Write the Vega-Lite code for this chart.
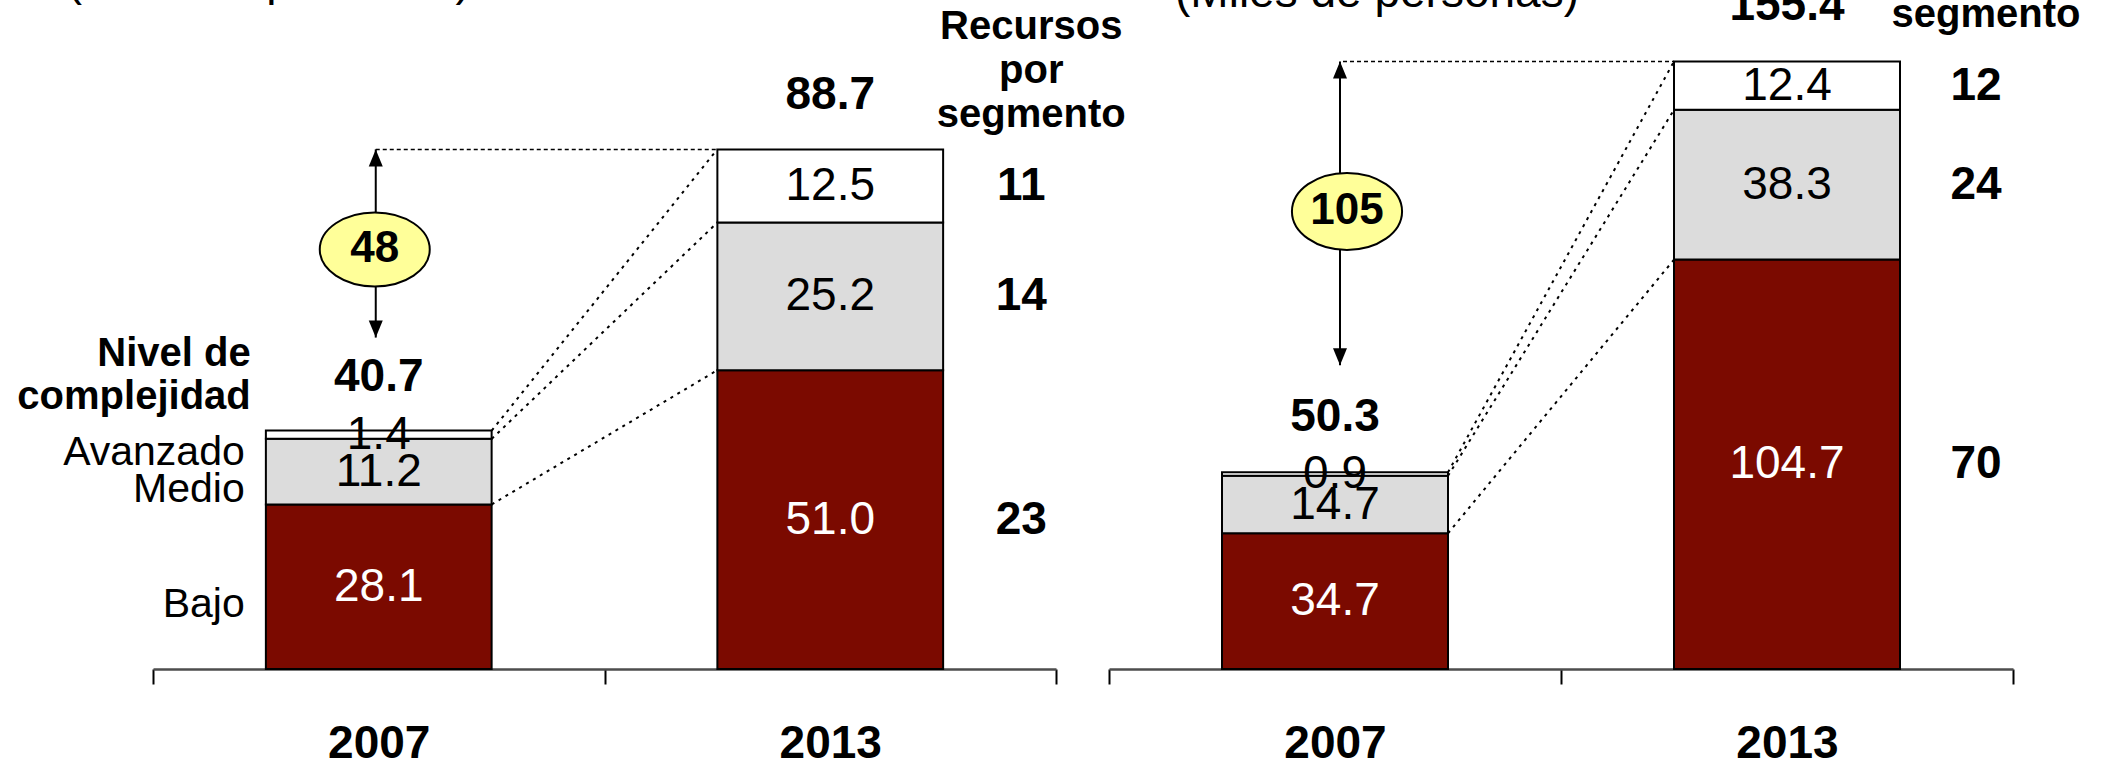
{
  "$schema": "https://vega.github.io/schema/vega-lite/v6.json",
  "width": 2108,
  "height": 669,
  "padding": 0,
  "config": {
    "font": "Liberation Sans",
    "view": {"stroke": null},
    "axisX": {"labelFontSize": 46, "labelFontWeight": "bold", "labelColor": "black", "labelAngle": 0, "labelPadding": 37, "tickBand": "extent", "tickSize": 15, "tickColor": "black", "tickWidth": 2, "domainColor": "#4d4d4d", "domainWidth": 2.5, "grid": false}
  },
  "datasets": {
    "segL": [
      {"year": "2007", "level": "Bajo", "ord": 1, "value": 28.1},
      {"year": "2007", "level": "Medio", "ord": 2, "value": 11.2},
      {"year": "2007", "level": "Avanzado", "ord": 3, "value": 1.4},
      {"year": "2013", "level": "Bajo", "ord": 1, "value": 51.0, "res": 23},
      {"year": "2013", "level": "Medio", "ord": 2, "value": 25.2, "res": 14},
      {"year": "2013", "level": "Avanzado", "ord": 3, "value": 12.5, "res": 11}
    ],
    "conL": [
      {"level": "Bajo", "from": "2007", "to": "2013", "top07": 28.1, "top13": 51.0},
      {"level": "Medio", "from": "2007", "to": "2013", "top07": 39.3, "top13": 76.2},
      {"level": "Avanzado", "from": "2007", "to": "2013", "top07": 40.7, "top13": 88.7}
    ],
    "totL": [
      {"year": "2007", "total": 40.7, "next": "2013", "nextTotal": 88.7, "change": "48"},
      {"year": "2013", "total": 88.7}
    ],
    "segR": [
      {"year": "2007", "level": "Bajo", "ord": 1, "value": 34.7},
      {"year": "2007", "level": "Medio", "ord": 2, "value": 14.7},
      {"year": "2007", "level": "Avanzado", "ord": 3, "value": 0.9},
      {"year": "2013", "level": "Bajo", "ord": 1, "value": 104.7, "res": 70},
      {"year": "2013", "level": "Medio", "ord": 2, "value": 38.3, "res": 24},
      {"year": "2013", "level": "Avanzado", "ord": 3, "value": 12.4, "res": 12}
    ],
    "conR": [
      {"level": "Bajo", "from": "2007", "to": "2013", "top07": 34.7, "top13": 104.7},
      {"level": "Medio", "from": "2007", "to": "2013", "top07": 49.4, "top13": 143.0},
      {"level": "Avanzado", "from": "2007", "to": "2013", "top07": 50.3, "top13": 155.4}
    ],
    "totR": [
      {"year": "2007", "total": 50.3, "next": "2013", "nextTotal": 155.4, "change": "105"},
      {"year": "2013", "total": 155.4}
    ]
  },
  "resolve": {"scale": {"x": "independent", "y": "independent"}, "axis": {"x": "independent", "y": "independent"}},
  "layer": [
    {
      "layer": [
        {
          "data": {"name": "conL"},
          "mark": {"type": "rule", "strokeDash": [3, 5], "strokeWidth": 2, "color": "black", "xOffset": 113, "x2Offset": -113},
          "encoding": {
            "x": {"field": "from", "type": "nominal", "title": null},
            "x2": {"field": "to"},
            "y": {"field": "top07", "type": "quantitative", "axis": null},
            "y2": {"field": "top13"}
          }
        },
        {
          "data": {"name": "segL"},
          "mark": {"type": "bar", "stroke": "black", "strokeWidth": 2, "width": {"band": 0.5}},
          "encoding": {
            "x": {"field": "year", "type": "nominal", "title": null, "scale": {"range": [153, 1056], "paddingInner": 0, "paddingOuter": 0}, "axis": {"orient": "bottom"}},
            "y": {"field": "value", "type": "quantitative", "stack": "zero", "scale": {"domain": [0, 114.2], "nice": false}, "axis": null},
            "color": {"field": "level", "type": "nominal", "scale": {"domain": ["Bajo", "Medio", "Avanzado"], "range": ["#7B0A00", "#DCDCDC", "#FFFFFF"]}, "legend": null},
            "order": {"field": "ord", "type": "quantitative"}
          }
        },
        {
          "data": {"name": "segL"},
          "transform": [
            {"stack": "value", "groupby": ["year"], "sort": [{"field": "ord", "order": "ascending"}], "as": ["v0", "v1"]},
            {"fold": ["v0", "v1"], "as": ["k", "pos"]},
            {"aggregate": [{"op": "mean", "field": "pos", "as": "mid"}], "groupby": ["year", "level", "value"]}
          ],
          "mark": {"type": "text", "fontSize": 46, "baseline": "middle"},
          "encoding": {
            "x": {"field": "year", "type": "nominal", "title": null},
            "y": {"field": "mid", "type": "quantitative", "axis": null},
            "text": {"field": "value", "type": "quantitative", "format": ".1f"},
            "color": {"condition": {"test": "datum.level === 'Bajo'", "value": "white"}, "value": "black"}
          }
        },
        {
          "data": {"name": "segL"},
          "transform": [
            {"stack": "value", "groupby": ["year"], "sort": [{"field": "ord", "order": "ascending"}], "as": ["v0", "v1"]},
            {"filter": "datum.year === '2013'"},
            {"fold": ["v0", "v1"], "as": ["k", "pos"]},
            {"aggregate": [{"op": "mean", "field": "pos", "as": "mid"}], "groupby": ["year", "level", "res"]}
          ],
          "mark": {"type": "text", "fontSize": 46, "fontWeight": "bold", "baseline": "middle", "dx": 191, "color": "black"},
          "encoding": {
            "x": {"field": "year", "type": "nominal", "title": null},
            "y": {"field": "mid", "type": "quantitative", "axis": null},
            "text": {"field": "res", "type": "quantitative"}
          }
        },
        {
          "data": {"name": "segL"},
          "transform": [
            {"stack": "value", "groupby": ["year"], "sort": [{"field": "ord", "order": "ascending"}], "as": ["v0", "v1"]},
            {"filter": "datum.year === '2007'"},
            {"fold": ["v0", "v1"], "as": ["k", "pos"]},
            {"aggregate": [{"op": "mean", "field": "pos", "as": "mid"}], "groupby": ["year", "level"]}
          ],
          "mark": {"type": "text", "fontSize": 41, "baseline": "middle", "align": "right", "dx": -134, "dy": 18, "color": "black"},
          "encoding": {
            "x": {"field": "year", "type": "nominal", "title": null},
            "y": {"field": "mid", "type": "quantitative", "axis": null},
            "text": {"field": "level", "type": "nominal"}
          }
        },
        {
          "data": {"name": "totL"},
          "mark": {"type": "text", "fontSize": 46, "fontWeight": "bold", "baseline": "alphabetic", "dy": -40, "color": "black"},
          "encoding": {
            "x": {"field": "year", "type": "nominal", "title": null},
            "y": {"field": "total", "type": "quantitative", "axis": null},
            "text": {"field": "total", "type": "quantitative", "format": ".1f"}
          }
        },
        {
          "data": {"name": "totL"},
          "transform": [{"filter": "datum.year === '2013'"}],
          "mark": {"type": "text", "lineBreak": "|", "fontSize": 40, "fontWeight": "bold", "baseline": "alphabetic", "align": "center", "lineHeight": 44, "dx": 201, "dy": -110, "color": "black"},
          "encoding": {
            "x": {"field": "year", "type": "nominal", "title": null},
            "y": {"field": "total", "type": "quantitative", "axis": null},
            "text": {"value": "Recursos|por|segmento"}
          }
        },
        {
          "data": {"name": "totL"},
          "transform": [{"filter": "datum.year === '2007'"}],
          "mark": {"type": "text", "lineBreak": "|", "fontSize": 40, "fontWeight": "bold", "baseline": "alphabetic", "align": "right", "lineHeight": 43, "dx": -128, "dy": -65, "color": "black"},
          "encoding": {
            "x": {"field": "year", "type": "nominal", "title": null},
            "y": {"field": "total", "type": "quantitative", "axis": null},
            "text": {"value": "Nivel de|complejidad"}
          }
        },
        {
          "data": {"name": "totL"},
          "transform": [{"filter": "datum.year === '2007'"}],
          "mark": {"type": "text", "fontSize": 46, "baseline": "alphabetic", "align": "center", "dx": -110, "dy": -154, "color": "black", "clip": true},
          "encoding": {
            "x": {"field": "year", "type": "nominal", "title": null},
            "y": {"field": "nextTotal", "type": "quantitative", "axis": null},
            "text": {"value": "(Miles de personas)"}
          }
        },
        {
          "data": {"name": "totL"},
          "transform": [{"filter": "datum.year === '2007'"}],
          "mark": {"type": "rule", "strokeDash": [4, 3], "strokeWidth": 1.5, "color": "black", "xOffset": -3, "x2Offset": -113},
          "encoding": {
            "x": {"field": "year", "type": "nominal", "title": null},
            "x2": {"field": "next"},
            "y": {"field": "nextTotal", "type": "quantitative", "axis": null}
          }
        },
        {
          "data": {"name": "totL"},
          "transform": [{"filter": "datum.year === '2007'"}],
          "mark": {"type": "rule", "strokeWidth": 2, "color": "black", "xOffset": -3, "y2Offset": -93},
          "encoding": {
            "x": {"field": "year", "type": "nominal", "title": null},
            "y": {"field": "nextTotal", "type": "quantitative", "axis": null},
            "y2": {"field": "total"}
          }
        },
        {
          "data": {"name": "totL"},
          "transform": [{"filter": "datum.year === '2007'"}],
          "mark": {"type": "point", "shape": "M0,0L-0.7,1.7L0.7,1.7Z", "size": 400, "filled": true, "opacity": 1, "color": "black", "xOffset": -3},
          "encoding": {
            "x": {"field": "year", "type": "nominal", "title": null},
            "y": {"field": "nextTotal", "type": "quantitative", "axis": null}
          }
        },
        {
          "data": {"name": "totL"},
          "transform": [{"filter": "datum.year === '2007'"}],
          "mark": {"type": "point", "shape": "M0,0L-0.7,-1.7L0.7,-1.7Z", "size": 400, "filled": true, "opacity": 1, "color": "black", "xOffset": -3, "yOffset": -93},
          "encoding": {
            "x": {"field": "year", "type": "nominal", "title": null},
            "y": {"field": "total", "type": "quantitative", "axis": null}
          }
        },
        {
          "data": {"name": "totL"},
          "transform": [{"filter": "datum.year === '2007'"}],
          "mark": {"type": "point", "shape": "M-1.486,0A1.486,1,0,1,1,1.486,0A1.486,1,0,1,1,-1.486,0Z", "size": 5476, "filled": true, "opacity": 1, "fill": "#FFFF99", "stroke": "black", "strokeWidth": 2, "xOffset": -4, "yOffset": 100},
          "encoding": {
            "x": {"field": "year", "type": "nominal", "title": null},
            "y": {"field": "nextTotal", "type": "quantitative", "axis": null}
          }
        },
        {
          "data": {"name": "totL"},
          "transform": [{"filter": "datum.year === '2007'"}],
          "mark": {"type": "text", "fontSize": 44, "fontWeight": "bold", "baseline": "middle", "color": "black", "dx": -4, "dy": 100},
          "encoding": {
            "x": {"field": "year", "type": "nominal", "title": null},
            "y": {"field": "nextTotal", "type": "quantitative", "axis": null},
            "text": {"field": "change", "type": "nominal"}
          }
        }
      ]
    },
    {
      "layer": [
        {
          "data": {"name": "conR"},
          "mark": {"type": "rule", "strokeDash": [3, 5], "strokeWidth": 2, "color": "black", "xOffset": 113, "x2Offset": -113},
          "encoding": {
            "x": {"field": "from", "type": "nominal", "title": null},
            "x2": {"field": "to"},
            "y": {"field": "top07", "type": "quantitative", "axis": null},
            "y2": {"field": "top13"}
          }
        },
        {
          "data": {"name": "segR"},
          "mark": {"type": "bar", "stroke": "black", "strokeWidth": 2, "width": {"band": 0.5}},
          "encoding": {
            "x": {"field": "year", "type": "nominal", "title": null, "scale": {"range": [1109, 2013], "paddingInner": 0, "paddingOuter": 0}, "axis": {"orient": "bottom"}},
            "y": {"field": "value", "type": "quantitative", "stack": "zero", "scale": {"domain": [0, 171.1], "nice": false}, "axis": null},
            "color": {"field": "level", "type": "nominal", "scale": {"domain": ["Bajo", "Medio", "Avanzado"], "range": ["#7B0A00", "#DCDCDC", "#FFFFFF"]}, "legend": null},
            "order": {"field": "ord", "type": "quantitative"}
          }
        },
        {
          "data": {"name": "segR"},
          "transform": [
            {"stack": "value", "groupby": ["year"], "sort": [{"field": "ord", "order": "ascending"}], "as": ["v0", "v1"]},
            {"fold": ["v0", "v1"], "as": ["k", "pos"]},
            {"aggregate": [{"op": "mean", "field": "pos", "as": "mid"}], "groupby": ["year", "level", "value"]}
          ],
          "mark": {"type": "text", "fontSize": 46, "baseline": "middle"},
          "encoding": {
            "x": {"field": "year", "type": "nominal", "title": null},
            "y": {"field": "mid", "type": "quantitative", "axis": null},
            "text": {"field": "value", "type": "quantitative", "format": ".1f"},
            "color": {"condition": {"test": "datum.level === 'Bajo'", "value": "white"}, "value": "black"}
          }
        },
        {
          "data": {"name": "segR"},
          "transform": [
            {"stack": "value", "groupby": ["year"], "sort": [{"field": "ord", "order": "ascending"}], "as": ["v0", "v1"]},
            {"filter": "datum.year === '2013'"},
            {"fold": ["v0", "v1"], "as": ["k", "pos"]},
            {"aggregate": [{"op": "mean", "field": "pos", "as": "mid"}], "groupby": ["year", "level", "res"]}
          ],
          "mark": {"type": "text", "fontSize": 46, "fontWeight": "bold", "baseline": "middle", "dx": 189, "color": "black"},
          "encoding": {
            "x": {"field": "year", "type": "nominal", "title": null},
            "y": {"field": "mid", "type": "quantitative", "axis": null},
            "text": {"field": "res", "type": "quantitative"}
          }
        },
        {
          "data": {"name": "totR"},
          "mark": {"type": "text", "fontSize": 46, "fontWeight": "bold", "baseline": "alphabetic", "dy": -41, "color": "black", "clip": true},
          "encoding": {
            "x": {"field": "year", "type": "nominal", "title": null},
            "y": {"field": "total", "type": "quantitative", "axis": null},
            "text": {"field": "total", "type": "quantitative", "format": ".1f"}
          }
        },
        {
          "data": {"name": "totR"},
          "transform": [{"filter": "datum.year === '2013'"}],
          "mark": {"type": "text", "lineBreak": "|", "fontSize": 40, "fontWeight": "bold", "baseline": "alphabetic", "align": "center", "lineHeight": 44, "dx": 199, "dy": -122, "color": "black", "clip": true},
          "encoding": {
            "x": {"field": "year", "type": "nominal", "title": null},
            "y": {"field": "total", "type": "quantitative", "axis": null},
            "text": {"value": "Recursos|por|segmento"}
          }
        },
        {
          "data": {"name": "totR"},
          "transform": [{"filter": "datum.year === '2007'"}],
          "mark": {"type": "text", "fontSize": 46, "baseline": "alphabetic", "align": "center", "dx": 42, "dy": -54, "color": "black", "clip": true},
          "encoding": {
            "x": {"field": "year", "type": "nominal", "title": null},
            "y": {"field": "nextTotal", "type": "quantitative", "axis": null},
            "text": {"value": "(Miles de personas)"}
          }
        },
        {
          "data": {"name": "totR"},
          "transform": [{"filter": "datum.year === '2007'"}],
          "mark": {"type": "rule", "strokeDash": [4, 3], "strokeWidth": 1.5, "color": "black", "xOffset": 8, "x2Offset": -113},
          "encoding": {
            "x": {"field": "year", "type": "nominal", "title": null},
            "x2": {"field": "next"},
            "y": {"field": "nextTotal", "type": "quantitative", "axis": null}
          }
        },
        {
          "data": {"name": "totR"},
          "transform": [{"filter": "datum.year === '2007'"}],
          "mark": {"type": "rule", "strokeWidth": 2, "color": "black", "xOffset": 5, "y2Offset": -107},
          "encoding": {
            "x": {"field": "year", "type": "nominal", "title": null},
            "y": {"field": "nextTotal", "type": "quantitative", "axis": null},
            "y2": {"field": "total"}
          }
        },
        {
          "data": {"name": "totR"},
          "transform": [{"filter": "datum.year === '2007'"}],
          "mark": {"type": "point", "shape": "M0,0L-0.7,1.7L0.7,1.7Z", "size": 400, "filled": true, "opacity": 1, "color": "black", "xOffset": 5},
          "encoding": {
            "x": {"field": "year", "type": "nominal", "title": null},
            "y": {"field": "nextTotal", "type": "quantitative", "axis": null}
          }
        },
        {
          "data": {"name": "totR"},
          "transform": [{"filter": "datum.year === '2007'"}],
          "mark": {"type": "point", "shape": "M0,0L-0.7,-1.7L0.7,-1.7Z", "size": 400, "filled": true, "opacity": 1, "color": "black", "xOffset": 5, "yOffset": -107},
          "encoding": {
            "x": {"field": "year", "type": "nominal", "title": null},
            "y": {"field": "total", "type": "quantitative", "axis": null}
          }
        },
        {
          "data": {"name": "totR"},
          "transform": [{"filter": "datum.year === '2007'"}],
          "mark": {"type": "point", "shape": "M-1.43,0A1.43,1,0,1,1,1.43,0A1.43,1,0,1,1,-1.43,0Z", "size": 5929, "filled": true, "opacity": 1, "fill": "#FFFF99", "stroke": "black", "strokeWidth": 2, "xOffset": 12, "yOffset": 150},
          "encoding": {
            "x": {"field": "year", "type": "nominal", "title": null},
            "y": {"field": "nextTotal", "type": "quantitative", "axis": null}
          }
        },
        {
          "data": {"name": "totR"},
          "transform": [{"filter": "datum.year === '2007'"}],
          "mark": {"type": "text", "fontSize": 44, "fontWeight": "bold", "baseline": "middle", "color": "black", "dx": 12, "dy": 150},
          "encoding": {
            "x": {"field": "year", "type": "nominal", "title": null},
            "y": {"field": "nextTotal", "type": "quantitative", "axis": null},
            "text": {"field": "change", "type": "nominal"}
          }
        }
      ]
    }
  ]
}
